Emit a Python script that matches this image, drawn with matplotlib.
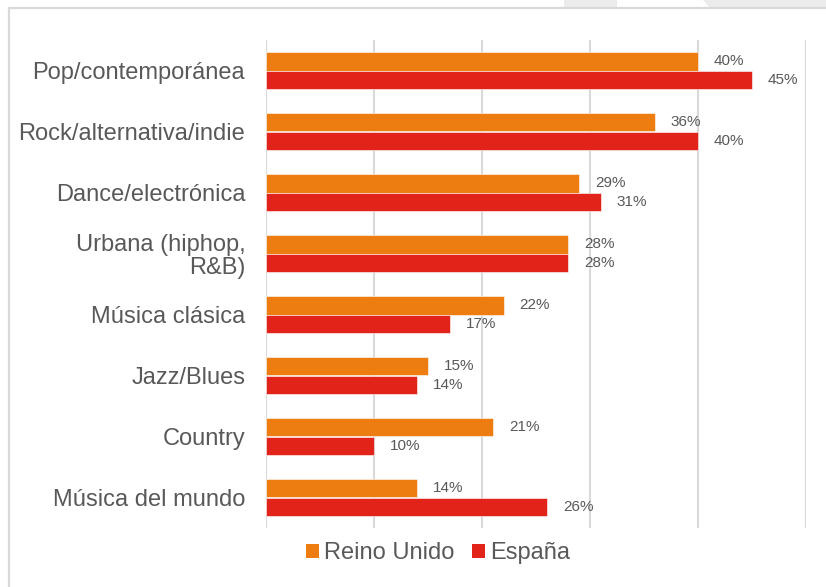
import matplotlib
matplotlib.use("Agg")
import matplotlib.pyplot as plt
from matplotlib.patches import Patch, Rectangle, Polygon

plt.rcParams['font.family'] = ['Liberation Sans', 'DejaVu Sans']

categories = ["Pop/contemporánea", "Rock/alternativa/indie", "Dance/electrónica",
              "Urbana (hiphop,\nR&B)", "Música clásica", "Jazz/Blues", "Country",
              "Música del mundo"]
reino_unido = [40, 36, 29, 28, 22, 15, 21, 14]
espana = [45, 40, 31, 28, 17, 14, 10, 26]
series_names = ["Reino Unido", "España"]
colors = ["#ED7D11", "#E2231A"]
text_color = "#595959"
grid_color = "#D9D9D9"

W, H = 826, 587
fig = plt.figure(figsize=(W / 100, H / 100), dpi=100)
fig.patch.set_facecolor("white")

# screenshot frame decorations
fig.patches.append(Rectangle((564 / W, 1 - 7 / H), (617 - 564) / W, 7 / H,
                             transform=fig.transFigure, facecolor="#EBEBEB",
                             edgecolor="none", zorder=-2))
fig.patches.append(Polygon([(703 / W, 1), (1, 1), (1, 1 - 7 / H), (709 / W, 1 - 7 / H)],
                           closed=True, transform=fig.transFigure,
                           facecolor="#EBEBEB", edgecolor="none", zorder=-2))
fig.patches.append(Rectangle((9 / W, -0.05), 1.1, 1 - 8 / H + 0.05,
                             transform=fig.transFigure, facecolor="none",
                             edgecolor="#D9D9D9", linewidth=1.6, zorder=-1))

ax = fig.add_axes([266 / W, 1 - 528 / H, (806 - 266) / W, (528 - 40) / H])
ax.set_facecolor("none")
ax.set_zorder(2)

ypos = list(range(len(categories)))
h = 0.31
bars1 = ax.barh([y - h / 2 for y in ypos], reino_unido, height=h, color=colors[0],
                edgecolor="white", linewidth=0.4, zorder=3)
bars2 = ax.barh([y + h / 2 for y in ypos], espana, height=h, color=colors[1],
                edgecolor="white", linewidth=0.4, zorder=3)

for bars, vals in ((bars1, reino_unido), (bars2, espana)):
    for b, v in zip(bars, vals):
        ax.annotate(f"{v}%", xy=(b.get_width(), b.get_y() + b.get_height() / 2),
                    xytext=(11.5, 0), textcoords="offset points",
                    ha="left", va="center", fontsize=11, color=text_color)

ax.set_xlim(0, 50)
ax.set_ylim(len(categories) - 0.5, -0.5)
ax.set_xticks(range(0, 51, 10))
ax.set_xticklabels([])
ax.tick_params(axis="x", length=0)
ax.xaxis.grid(True, color=grid_color, linewidth=1.5, zorder=0)
ax.set_axisbelow(True)
ax.set_yticks(ypos)
ax.set_yticklabels(categories, fontsize=17, color=text_color, linespacing=1.05,
                   multialignment="right")
ax.tick_params(axis="y", length=0, pad=15)
for s in ax.spines.values():
    s.set_visible(False)

handles = [Patch(facecolor=c, edgecolor="none", label=n) for c, n in zip(colors, series_names)]
leg = fig.legend(handles=handles, loc="center", bbox_to_anchor=(438 / W, 1 - 553 / H),
                 ncol=2, frameon=False, fontsize=17, handlelength=0.55,
                 handleheight=0.55, handletextpad=0.2, columnspacing=0.75,
                 borderpad=0, borderaxespad=0)
for t in leg.get_texts():
    t.set_color(text_color)

fig.savefig("out.png", dpi=100, facecolor="white")
